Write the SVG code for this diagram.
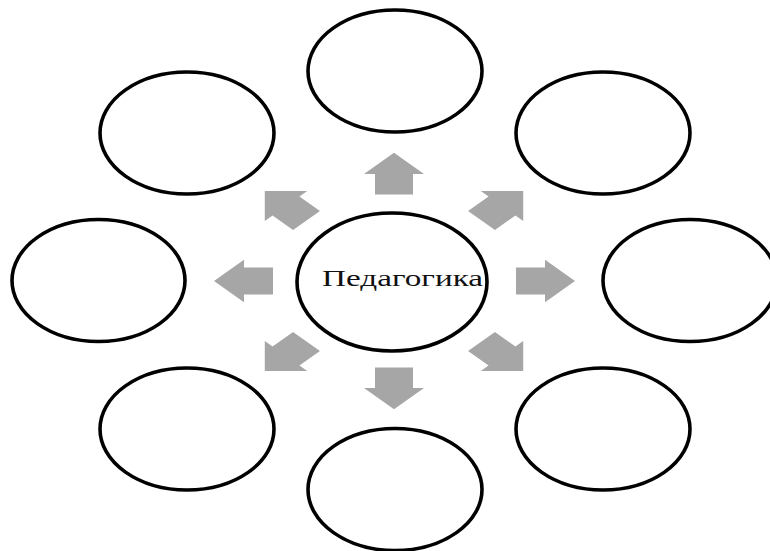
<svg xmlns="http://www.w3.org/2000/svg" xmlns:xlink="http://www.w3.org/1999/xlink" width="770" height="551" viewBox="0 0 770 551">
<style>
.node{fill:#fff;stroke:#000;stroke-width:3.6}
.arrow{fill:#a6a6a6}
.label{font-family:"Liberation Serif","Times New Roman",serif;font-size:32px;fill:#111}
</style>
<defs>
<path id="arr" d="M0,-30 L30,0 L19,0 L19,29 L-19,29 L-19,0 L-30,0 Z"/>
</defs>
<rect width="770" height="551" fill="#fff"/>
<g id="connectors" class="arrow">
<use xlink:href="#arr" transform="translate(394,174) scale(1,0.705)"/>
<use xlink:href="#arr" transform="translate(394,388) scale(1,0.705) rotate(180)"/>
<use xlink:href="#arr" transform="translate(244,281) scale(1,0.705) rotate(-90)"/>
<use xlink:href="#arr" transform="translate(545,281) scale(1,0.705) rotate(90)"/>
<use xlink:href="#arr" transform="translate(286,206) scale(1,0.705) rotate(-45)"/>
<use xlink:href="#arr" transform="translate(502,206) scale(1,0.705) rotate(45)"/>
<use xlink:href="#arr" transform="translate(286,356) scale(1,0.705) rotate(-135)"/>
<use xlink:href="#arr" transform="translate(502,356) scale(1,0.705) rotate(135)"/>
</g>
<g id="node-top"><ellipse class="node" cx="395" cy="71" rx="87" ry="61"/></g>
<g id="node-top-left"><ellipse class="node" cx="187" cy="133" rx="87" ry="61"/></g>
<g id="node-top-right"><ellipse class="node" cx="603" cy="133" rx="87" ry="61"/></g>
<g id="node-left"><ellipse class="node" cx="98.5" cy="280.5" rx="86.5" ry="61"/></g>
<g id="node-right"><ellipse class="node" cx="690" cy="280.5" rx="87" ry="61"/></g>
<g id="node-bottom-left"><ellipse class="node" cx="187" cy="429" rx="87" ry="61"/></g>
<g id="node-bottom-right"><ellipse class="node" cx="603" cy="429" rx="87" ry="61"/></g>
<g id="node-bottom"><ellipse class="node" cx="395" cy="489.5" rx="87" ry="61"/></g>
<g id="node-center">
<ellipse class="node" cx="392" cy="282" rx="95" ry="69"/>
<text class="label" text-anchor="middle" transform="translate(402.5,286) scale(1,0.75)" textLength="161" lengthAdjust="spacingAndGlyphs">Педагогика</text>
</g>
</svg>
